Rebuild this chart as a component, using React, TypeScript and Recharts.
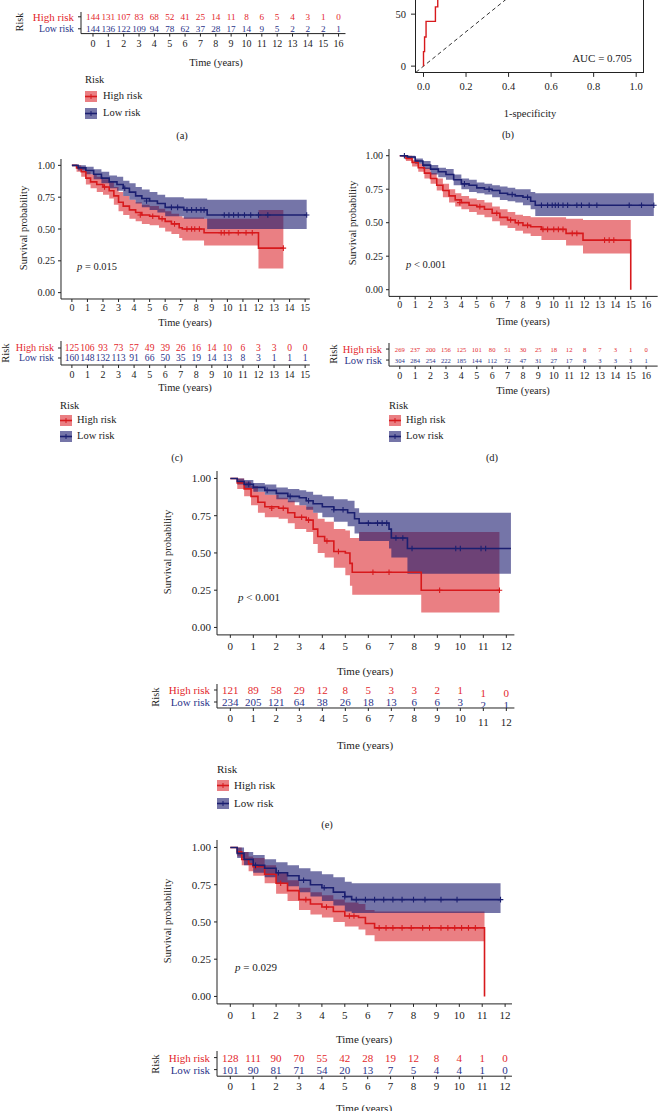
import React from "react";
import { ComposedChart, XAxis, YAxis, Area, Line, Scatter } from "recharts";

/* ── colours / fonts ── */
const RED = "#d7191c";
const RED_TXT = "#e3262b";
const RED_FILL = "#dc2a30";
const BLUE = "#1b1f70";
const BLUE_TXT = "#2a3389";
const BLUE_FILL = "#19196e";
const INK = "#222";
const FONT = '"Liberation Serif", "DejaVu Serif", serif';

/* ── (a) risk table (top, plot itself is off the page) ── */
const aYears = [0, 1, 2, 3, 4, 5, 6, 7, 8, 9, 10, 11, 12, 13, 14, 15, 16];
const aHighN = [144, 131, 107, 83, 68, 52, 41, 25, 14, 11, 8, 6, 5, 4, 3, 1, 0];
const aLowN = [144, 136, 122, 109, 94, 78, 62, 37, 28, 17, 14, 9, 5, 2, 2, 2, 1];

/* ── (b) ROC ── */
const rocFpr = [0, 0, 0.005, 0.005, 0.012, 0.012, 0.056, 0.056, 0.067, 0.067, 0.09, 0.09];
const rocTpr = [0, 14, 14, 28, 28, 43, 43, 57, 57, 71, 71, 100];
const diagX = [-0.035, 0.63];
const diagY = [-5.8, 104.3];
const rocTicks = [0, 0.2, 0.4, 0.6, 0.8, 1];

/* ── (c) ── [time, surv, lower, upper] */
const cHigh = [
  [0, 1, 1, 1], [0.3, 0.98, 0.95, 1], [0.6, 0.95, 0.91, 0.99], [0.9, 0.9, 0.85, 0.95],
  [1.2, 0.87, 0.82, 0.93], [1.6, 0.85, 0.79, 0.91], [2.0, 0.83, 0.77, 0.89], [2.4, 0.8, 0.74, 0.87],
  [2.7, 0.76, 0.69, 0.83], [3.0, 0.71, 0.64, 0.79], [3.3, 0.68, 0.61, 0.76], [3.7, 0.65, 0.58, 0.73],
  [4.1, 0.63, 0.56, 0.71], [4.5, 0.61, 0.54, 0.69], [5.0, 0.6, 0.53, 0.68], [5.6, 0.58, 0.51, 0.66],
  [6.0, 0.56, 0.48, 0.64], [6.4, 0.54, 0.46, 0.62], [6.9, 0.51, 0.43, 0.6], [7.1, 0.5, 0.41, 0.59],
  [8.5, 0.47, 0.37, 0.58], [12.0, 0.35, 0.19, 0.65], [13.6, 0.35, 0.19, 0.65],
];
const cLow = [
  [0, 1, 1, 1], [0.4, 0.98, 0.96, 1], [0.9, 0.96, 0.93, 0.99], [1.4, 0.93, 0.89, 0.97],
  [1.9, 0.9, 0.86, 0.95], [2.4, 0.87, 0.82, 0.92], [2.9, 0.85, 0.8, 0.91], [3.3, 0.82, 0.76, 0.88],
  [3.7, 0.79, 0.73, 0.86], [4.1, 0.76, 0.7, 0.83], [4.5, 0.74, 0.67, 0.81], [5.0, 0.72, 0.65, 0.79],
  [5.5, 0.7, 0.63, 0.77], [6.0, 0.67, 0.6, 0.75], [7.2, 0.65, 0.58, 0.74], [8.7, 0.61, 0.5, 0.73],
  [15.1, 0.61, 0.5, 0.73],
];
const cHighCens = [
  [2.1, 0.83], [4.4, 0.61], [5.2, 0.6], [5.8, 0.58], [6.6, 0.54], [7.4, 0.5], [7.7, 0.5], [7.9, 0.5],
  [8.2, 0.5], [9.6, 0.47], [9.8, 0.47], [10.1, 0.47], [10.7, 0.47], [11.2, 0.47], [11.6, 0.47], [13.6, 0.35],
];
const cLowCens = [
  [3.4, 0.82], [4.8, 0.72], [6.4, 0.67], [6.8, 0.67], [7.4, 0.65], [7.7, 0.65], [8.0, 0.65], [8.3, 0.65],
  [8.5, 0.65], [9.8, 0.61], [10.1, 0.61], [10.4, 0.61], [10.7, 0.61], [11.1, 0.61], [11.5, 0.61],
  [12.0, 0.61], [12.6, 0.61], [15.1, 0.61],
];
const cYears = [0, 1, 2, 3, 4, 5, 6, 7, 8, 9, 10, 11, 12, 13, 14, 15];
const cHighN = [125, 106, 93, 73, 57, 49, 39, 26, 16, 14, 10, 6, 3, 3, 0, 0];
const cLowN = [160, 148, 132, 113, 91, 66, 50, 35, 19, 14, 13, 8, 3, 1, 1, 1];

/* ── (d) ── */
const dHigh = [
  [0, 1, 1, 1], [0.4, 0.98, 0.96, 1], [0.8, 0.95, 0.92, 0.97], [1.2, 0.91, 0.88, 0.94],
  [1.6, 0.87, 0.83, 0.91], [2.0, 0.83, 0.79, 0.87], [2.4, 0.78, 0.74, 0.83], [2.8, 0.74, 0.69, 0.79],
  [3.2, 0.7, 0.65, 0.75], [3.6, 0.67, 0.62, 0.72], [4.0, 0.65, 0.6, 0.7], [4.5, 0.63, 0.58, 0.68],
  [5.0, 0.62, 0.56, 0.67], [5.5, 0.6, 0.54, 0.65], [6.0, 0.57, 0.51, 0.62], [6.5, 0.54, 0.48, 0.6],
  [7.0, 0.52, 0.46, 0.58], [7.5, 0.5, 0.44, 0.56], [8.0, 0.48, 0.42, 0.55], [8.5, 0.47, 0.4, 0.54],
  [9.2, 0.45, 0.37, 0.54], [10.8, 0.42, 0.33, 0.53], [11.9, 0.37, 0.27, 0.52], [15.0, 0, 0, 0],
];
const dLow = [
  [0, 1, 1, 1], [0.5, 0.99, 0.98, 1], [1.0, 0.96, 0.94, 0.98], [1.5, 0.93, 0.9, 0.96],
  [2.0, 0.9, 0.86, 0.93], [2.5, 0.88, 0.84, 0.91], [3.0, 0.86, 0.82, 0.9], [3.5, 0.82, 0.78, 0.86],
  [4.0, 0.79, 0.75, 0.83], [4.5, 0.78, 0.73, 0.82], [5.0, 0.76, 0.72, 0.8], [5.5, 0.75, 0.71, 0.79],
  [6.0, 0.74, 0.69, 0.78], [6.5, 0.72, 0.67, 0.77], [7.0, 0.71, 0.66, 0.76], [7.5, 0.7, 0.65, 0.75],
  [8.0, 0.69, 0.63, 0.75], [8.5, 0.66, 0.6, 0.73], [8.8, 0.63, 0.55, 0.72], [16.5, 0.63, 0.55, 0.72],
];
const dHighCens = [
  [3.9, 0.65], [5.2, 0.62], [6.3, 0.57], [7.2, 0.52], [7.7, 0.5], [8.3, 0.48], [9.3, 0.45], [9.6, 0.45],
  [10.0, 0.45], [10.3, 0.45], [10.6, 0.45], [11.2, 0.42], [11.5, 0.42], [13.3, 0.37], [13.6, 0.37], [13.9, 0.37],
];
const dLowCens = [
  [0.3, 1], [4.2, 0.79], [5.8, 0.75], [7.3, 0.71], [8.3, 0.69], [9.2, 0.63], [9.6, 0.63], [9.9, 0.63],
  [10.1, 0.63], [10.3, 0.63], [10.6, 0.63], [10.9, 0.63], [11.5, 0.63], [11.8, 0.63], [12.3, 0.63],
  [12.8, 0.63], [14.9, 0.63], [15.7, 0.63], [16.5, 0.63],
];
const dYears = [0, 1, 2, 3, 4, 5, 6, 7, 8, 9, 10, 11, 12, 13, 14, 15, 16];
const dHighN = [269, 237, 200, 156, 125, 101, 80, 51, 30, 25, 18, 12, 8, 7, 3, 1, 0];
const dLowN = [304, 284, 254, 222, 185, 144, 112, 72, 47, 31, 27, 17, 8, 3, 3, 3, 1];

/* ── (e) ── */
const eHigh = [
  [0, 1, 1, 1], [0.3, 0.97, 0.93, 1], [0.6, 0.93, 0.88, 0.98], [0.9, 0.88, 0.82, 0.95],
  [1.2, 0.84, 0.77, 0.91], [1.5, 0.81, 0.74, 0.89], [2.1, 0.8, 0.73, 0.87], [2.5, 0.77, 0.7, 0.85],
  [2.8, 0.74, 0.66, 0.82], [3.3, 0.72, 0.64, 0.81], [3.6, 0.66, 0.56, 0.77], [3.8, 0.61, 0.5, 0.73],
  [4.1, 0.58, 0.47, 0.71], [4.5, 0.51, 0.4, 0.66], [5.0, 0.5, 0.35, 0.65], [5.2, 0.43, 0.28, 0.6],
  [5.3, 0.37, 0.22, 0.6], [5.6, 0.37, 0.22, 0.64], [8.3, 0.25, 0.1, 0.64], [11.7, 0.25, 0.1, 0.64],
];
const eLow = [
  [0, 1, 1, 1], [0.3, 0.98, 0.96, 1], [0.6, 0.96, 0.93, 0.99], [1.0, 0.94, 0.91, 0.97],
  [1.5, 0.92, 0.89, 0.96], [2.0, 0.9, 0.86, 0.94], [2.5, 0.88, 0.84, 0.93], [3.0, 0.87, 0.82, 0.92],
  [3.3, 0.85, 0.79, 0.91], [3.6, 0.83, 0.77, 0.89], [4.0, 0.81, 0.74, 0.88], [4.5, 0.79, 0.71, 0.86],
  [5.1, 0.77, 0.68, 0.85], [5.4, 0.73, 0.63, 0.8], [5.6, 0.7, 0.58, 0.77], [6.9, 0.66, 0.53, 0.77],
  [7.0, 0.6, 0.47, 0.77], [7.7, 0.53, 0.36, 0.77], [12.2, 0.53, 0.36, 0.77],
];
const eHighCens = [
  [1.8, 0.8], [2.3, 0.8], [3.1, 0.74], [3.4, 0.72], [4.2, 0.58], [4.7, 0.51], [6.2, 0.37], [6.9, 0.37],
  [9.1, 0.25], [11.7, 0.25],
];
const eLowCens = [
  [0.8, 0.96], [1.6, 0.92], [2.6, 0.88], [3.4, 0.85], [4.5, 0.79], [4.9, 0.79], [6.0, 0.7], [6.4, 0.7],
  [6.6, 0.7], [6.8, 0.7], [7.2, 0.6], [7.5, 0.6], [7.9, 0.53], [9.8, 0.53], [10.0, 0.53], [10.9, 0.53], [11.1, 0.53],
];
const eYears = [0, 1, 2, 3, 4, 5, 6, 7, 8, 9, 10, 11, 12];
const eHighN = [121, 89, 58, 29, 12, 8, 5, 3, 3, 2, 1, 1, 0];
const eLowN = [234, 205, 121, 64, 38, 26, 18, 13, 6, 6, 3, 2, 1];

/* ── (f) ── */
const fHigh = [
  [0, 1, 1, 1], [0.3, 0.97, 0.94, 1], [0.5, 0.92, 0.88, 0.97], [0.8, 0.89, 0.84, 0.94],
  [1.0, 0.87, 0.81, 0.93], [1.5, 0.82, 0.76, 0.88], [2.0, 0.76, 0.69, 0.83], [2.5, 0.71, 0.64, 0.78],
  [3.0, 0.65, 0.58, 0.73], [3.5, 0.62, 0.55, 0.7], [4.0, 0.6, 0.53, 0.68], [4.5, 0.57, 0.5, 0.65],
  [5.0, 0.54, 0.47, 0.63], [5.6, 0.53, 0.45, 0.62], [5.9, 0.49, 0.41, 0.58], [6.3, 0.46, 0.37, 0.57],
  [11.1, 0, 0, 0],
];
const fLow = [
  [0, 1, 1, 1], [0.3, 0.96, 0.93, 1], [0.6, 0.92, 0.88, 0.97], [1.0, 0.88, 0.83, 0.95],
  [1.5, 0.86, 0.8, 0.92], [2.0, 0.83, 0.76, 0.9], [2.5, 0.81, 0.74, 0.88], [3.0, 0.78, 0.7, 0.86],
  [3.5, 0.75, 0.67, 0.84], [4.0, 0.73, 0.64, 0.82], [4.5, 0.7, 0.61, 0.8], [5.0, 0.67, 0.57, 0.77],
  [5.3, 0.65, 0.56, 0.76], [11.8, 0.65, 0.56, 0.76],
];
const fHighCens = [
  [1.1, 0.87], [2.2, 0.76], [3.3, 0.65], [4.2, 0.6], [5.2, 0.54], [5.4, 0.54], [6.5, 0.46], [6.8, 0.46],
  [7.1, 0.46], [7.5, 0.46], [7.9, 0.46], [8.4, 0.46], [8.7, 0.46], [9.2, 0.46], [9.5, 0.46], [9.8, 0.46],
  [10.1, 0.46], [10.4, 0.46], [10.7, 0.46],
];
const fLowCens = [
  [1.1, 0.88], [2.1, 0.83], [3.2, 0.78], [4.1, 0.73], [5.0, 0.67], [5.5, 0.65], [5.9, 0.65], [6.3, 0.65],
  [6.7, 0.65], [7.1, 0.65], [7.5, 0.65], [8.0, 0.65], [8.5, 0.65], [9.2, 0.65], [9.9, 0.65], [11.8, 0.65],
];
const fYears = [0, 1, 2, 3, 4, 5, 6, 7, 8, 9, 10, 11, 12];
const fHighN = [128, 111, 90, 70, 55, 42, 28, 19, 12, 8, 4, 1, 0];
const fLowN = [101, 90, 81, 71, 54, 20, 13, 7, 5, 4, 4, 1, 0];

const survTicks = [0, 0.25, 0.5, 0.75, 1];

/* ── helpers ── */
const toRows = (a: number[][]) => a.map(([t, s, lo, hi]) => ({ t, s, band: [lo, hi] }));
const toPts = (a: number[][]) => a.map(([t, s]) => ({ t, s }));

const cross = (color: string) => (p: any) => (
  <path d={`M${p.cx - 2.8},${p.cy}h5.6M${p.cx},${p.cy - 2.8}v5.6`} stroke={color} strokeWidth={1.1} fill="none" />
);

function Txt({ x, y, children, fs = 10, color = INK, anchor = "middle", rot = 0 }: any) {
  const tx = anchor === "middle" ? "-50%" : anchor === "end" ? "-100%" : "0";
  return (
    <div
      style={{
        position: "absolute",
        left: x,
        top: y,
        fontSize: fs,
        lineHeight: 1,
        color,
        whiteSpace: "nowrap",
        fontFamily: FONT,
        transform: `translate(${tx}, -50%)${rot ? ` rotate(${rot}deg)` : ""}`,
      }}
    >
      {children}
    </div>
  );
}

function Swatch({ x, y, fill, line }: any) {
  return (
    <svg style={{ position: "absolute", left: x, top: y - 5.5 }} width={12} height={11}>
      <rect x={0} y={0} width={12} height={11} fill={fill} fillOpacity={0.6} />
      <line x1={0} x2={12} y1={5.5} y2={5.5} stroke={line} strokeWidth={1.6} />
      <line x1={6} x2={6} y1={3} y2={8} stroke={line} strokeWidth={1} />
    </svg>
  );
}

function RiskLegend({ x, y, tx, d1, d2, fs }: any) {
  return (
    <>
      <Txt x={x} y={y} anchor="start" fs={fs}>Risk</Txt>
      <Swatch x={x} y={y + d1} fill={RED_FILL} line={RED} />
      <Txt x={tx} y={y + d1} anchor="start" fs={fs}>High risk</Txt>
      <Swatch x={x} y={y + d2} fill={BLUE_FILL} line={BLUE} />
      <Txt x={tx} y={y + d2} anchor="start" fs={fs}>Low risk</Txt>
    </>
  );
}

function KMPlot({ rect, xd, xt, fs, gap, high, low, hc, lc }: any) {
  const L = 45, T = 6, R = 8, B = 26;
  const tickStyle = { fill: INK, fontSize: fs, fontFamily: FONT };
  return (
    <div style={{ position: "absolute", left: rect.x - L, top: rect.y - T }}>
      <ComposedChart
        width={L + rect.w + R}
        height={T + rect.h + B}
        margin={{ top: T, right: R, bottom: 0, left: 0 }}
      >
        <XAxis
          type="number"
          dataKey="t"
          domain={xd}
          ticks={xt}
          interval={0}
          allowDataOverflow
          height={B}
          tickSize={3}
          tickMargin={gap}
          stroke={INK}
          tick={tickStyle}
        />
        <YAxis
          type="number"
          domain={[-0.05, 1.05]}
          ticks={survTicks}
          interval={0}
          allowDataOverflow
          width={L}
          tickSize={3}
          tickMargin={3}
          stroke={INK}
          tick={tickStyle}
          tickFormatter={(v: number) => v.toFixed(2)}
        />
        <Area data={toRows(high)} dataKey="band" type="stepAfter" stroke="none" fill={RED_FILL} fillOpacity={0.6} isAnimationActive={false} />
        <Area data={toRows(low)} dataKey="band" type="stepAfter" stroke="none" fill={BLUE_FILL} fillOpacity={0.6} isAnimationActive={false} />
        <Line data={toRows(high)} dataKey="s" type="stepAfter" stroke={RED} strokeWidth={1.6} dot={false} isAnimationActive={false} />
        <Line data={toRows(low)} dataKey="s" type="stepAfter" stroke={BLUE} strokeWidth={1.6} dot={false} isAnimationActive={false} />
        <Scatter data={toPts(hc)} dataKey="s" shape={cross(RED)} isAnimationActive={false} />
        <Scatter data={toPts(lc)} dataKey="s" shape={cross(BLUE)} isAnimationActive={false} />
      </ComposedChart>
    </div>
  );
}

function RiskTable({ rect, xd, years, hi, lo, yd, fs, lfsHi, lfsLo, tfs, gap, shift = [] }: any) {
  const L = 75, T = 2, R = 8, B = 22;
  const hiRows = years.map((t: number, i: number) => ({ t, r: 2, n: hi[i] }));
  const loRows = years.map((t: number, i: number) => ({ t, r: 1, n: lo[i] }));
  const num = (color: string) => (p: any) => (
    <text
      x={p.cx}
      y={p.cy + (shift.includes(p.payload.t) ? 3 : 0)}
      textAnchor="middle"
      dominantBaseline="central"
      fill={color}
      fontSize={fs}
      fontFamily={FONT}
    >
      {p.payload.n}
    </text>
  );
  const rowTick = (p: any) => {
    const isHi = p.payload.value === 2;
    return (
      <text x={p.x} y={p.y} textAnchor="end" dominantBaseline="central" fill={isHi ? RED_TXT : BLUE_TXT} fontSize={isHi ? lfsHi : lfsLo} fontFamily={FONT}>
        {isHi ? "High risk" : "Low risk"}
      </text>
    );
  };
  const xTick = (p: any) => (
    <text x={p.x} y={p.y + (shift.includes(p.payload.value) ? 4 : 0)} dy="0.71em" textAnchor="middle" fill={INK} fontSize={tfs} fontFamily={FONT}>
      {p.payload.value}
    </text>
  );
  return (
    <div style={{ position: "absolute", left: rect.x - L, top: rect.y - T }}>
      <ComposedChart width={L + rect.w + R} height={T + rect.h + B} margin={{ top: T, right: R, bottom: 0, left: 0 }}>
        <XAxis type="number" dataKey="t" domain={xd} ticks={years} interval={0} allowDataOverflow height={B} tickSize={3} tickMargin={gap} stroke={INK} tick={xTick} />
        <YAxis type="number" domain={yd} ticks={[1, 2]} interval={0} allowDataOverflow width={L} tickSize={3} tickMargin={4} stroke={INK} tick={rowTick} />
        <Scatter data={hiRows} dataKey="r" shape={num(RED_TXT)} isAnimationActive={false} />
        <Scatter data={loRows} dataKey="r" shape={num(BLUE_TXT)} isAnimationActive={false} />
      </ComposedChart>
    </div>
  );
}

function RocPlot() {
  const rect = { x: 414.8, y: -41.9, w: 229.7, h: 114.9 };
  const L = 40, R = 10, B = 30;
  const roc = rocFpr.map((x, i) => ({ x, y: rocTpr[i] }));
  const diag = diagX.map((x, i) => ({ x, y: diagY[i] }));
  const tickStyle = { fill: INK, fontSize: 10.5, fontFamily: FONT };
  return (
    <>
      <div style={{ position: "absolute", left: rect.x - L, top: rect.y }}>
        <ComposedChart width={L + rect.w + R} height={rect.h + B} margin={{ top: 0, right: R, bottom: 0, left: 0 }}>
          <XAxis type="number" dataKey="x" domain={[-0.04, 1.04]} ticks={rocTicks} interval={0} allowDataOverflow axisLine={false} height={B} tickSize={4} tickMargin={6} stroke={INK} tick={tickStyle} tickFormatter={(v: number) => v.toFixed(1)} />
          <YAxis type="number" domain={[-6.5, 104]} ticks={[0, 50]} interval={0} allowDataOverflow axisLine={false} width={L} tickSize={4} tickMargin={5} stroke={INK} tick={tickStyle} />
          <Line data={diag} dataKey="y" type="linear" stroke="#333" strokeWidth={1} strokeDasharray="4 3" dot={false} isAnimationActive={false} />
          <Line data={roc} dataKey="y" type="linear" stroke={RED} strokeWidth={1.4} dot={false} isAnimationActive={false} />
        </ComposedChart>
      </div>
      <div
        style={{
          position: "absolute",
          left: rect.x,
          top: rect.y,
          width: rect.w,
          height: rect.h,
          border: `1px solid ${INK}`,
          boxSizing: "border-box",
          pointerEvents: "none",
        }}
      />
    </>
  );
}

function PVal({ x, y, sign, val, fs }: any) {
  return (
    <Txt x={x} y={y} anchor="start" fs={fs}>
      <i>p</i> {sign} {val}
    </Txt>
  );
}

export default function App() {
  const cRect = { x: 60.8, y: 158.6, w: 248.8, h: 140 };
  const dRect = { x: 388.9, y: 149.3, w: 268.7, h: 147.4 };
  const eRect = { x: 216.7, y: 470.5, w: 297.4, h: 163.9 };
  const fRect = { x: 216.7, y: 839.5, w: 295, h: 163.9 };
  return (
    <div style={{ position: "absolute", left: 0, top: 0, width: 658, height: 1111, overflow: "hidden", background: "#fff", fontFamily: FONT }}>
      {/* (a) */}
      <RiskTable rect={{ x: 81, y: 12.2, w: 264.5, h: 21.6 }} xd={[-0.78, 16.45]} years={aYears} hi={aHighN} lo={aLowN} yd={[0.6, 2.4]} fs={9.2} lfsHi={11} lfsLo={9.8} tfs={10} gap={3} />
      <Txt x={20} y={22} rot={-90} fs={10}>Risk</Txt>
      <Txt x={216} y={63} fs={10.5}>Time (years)</Txt>
      <RiskLegend x={85} y={80} tx={103} d1={16} d2={33} fs={10.5} />
      <Txt x={182} y={136} fs={10.5}>(a)</Txt>

      {/* (b) */}
      <RocPlot />
      <Txt x={602} y={58} fs={11}>AUC = 0.705</Txt>
      <Txt x={530} y={114} fs={10.5}>1-specificity</Txt>
      <Txt x={508} y={135} fs={10.5}>(b)</Txt>

      {/* (c) */}
      <KMPlot rect={cRect} xd={[-0.7, 15.3]} xt={cYears} fs={10} gap={2} high={cHigh} low={cLow} hc={cHighCens} lc={cLowCens} />
      <Txt x={24} y={228} rot={-90} fs={10.5}>Survival probability</Txt>
      <PVal x={77} y={267} sign="=" val="0.015" fs={10.5} />
      <Txt x={185} y={323} fs={10.5}>Time (years)</Txt>
      <RiskTable rect={{ x: 60.8, y: 341, w: 248.8, h: 24 }} xd={[-0.7, 15.3]} years={cYears} hi={cHighN} lo={cLowN} yd={[0.3, 2.7]} fs={9.6} lfsHi={10.2} lfsLo={9.8} tfs={10} gap={3} />
      <Txt x={6} y={353} rot={-90} fs={10.5}>Risk</Txt>
      <Txt x={185} y={388} fs={10.5}>Time (years)</Txt>
      <RiskLegend x={60} y={406} tx={77} d1={14} d2={30} fs={10.5} />
      <Txt x={177} y={458} fs={10.5}>(c)</Txt>

      {/* (d) */}
      <KMPlot rect={dRect} xd={[-0.7, 16.75]} xt={dYears} fs={10} gap={2} high={dHigh} low={dLow} hc={dHighCens} lc={dLowCens} />
      <Txt x={353} y={223} rot={-90} fs={10.5}>Survival probability</Txt>
      <PVal x={406} y={265} sign="<" val="0.001" fs={10.5} />
      <Txt x={523} y={322} fs={10.5}>Time (years)</Txt>
      <RiskTable rect={{ x: 388.9, y: 343, w: 268.7, h: 23.1 }} xd={[-0.7, 16.75]} years={dYears} hi={dHighN} lo={dLowN} yd={[0.45, 2.55]} fs={6.6} lfsHi={10.5} lfsLo={10.5} tfs={10} gap={3} />
      <Txt x={334} y={354} rot={-90} fs={10.5}>Risk</Txt>
      <Txt x={523} y={391} fs={10.5}>Time (years)</Txt>
      <RiskLegend x={389} y={406} tx={406} d1={14} d2={30} fs={10.5} />
      <Txt x={492} y={458} fs={10.5}>(d)</Txt>

      {/* (e) */}
      <KMPlot rect={eRect} xd={[-0.58, 12.35]} xt={eYears} fs={11} gap={4} high={eHigh} low={eLow} hc={eHighCens} lc={eLowCens} />
      <Txt x={168} y={552} rot={-90} fs={10.5}>Survival probability</Txt>
      <PVal x={238} y={597} sign="<" val="0.001" fs={11} />
      <Txt x={365} y={671} fs={11}>Time (years)</Txt>
      <RiskTable rect={{ x: 216.7, y: 684, w: 297.4, h: 24 }} xd={[-0.58, 12.35]} years={eYears} hi={eHighN} lo={eLowN} yd={[0.5, 2.5]} fs={11} lfsHi={11} lfsLo={11} tfs={11} gap={3} shift={[11, 12]} />
      <Txt x={156} y={697} rot={-90} fs={10.5}>Risk</Txt>
      <Txt x={365} y={745} fs={11}>Time (years)</Txt>
      <RiskLegend x={217} y={769} tx={234} d1={16} d2={34} fs={11} />
      <Txt x={327} y={825} fs={10.5}>(e)</Txt>

      {/* (f) */}
      <KMPlot rect={fRect} xd={[-0.58, 12.3]} xt={fYears} fs={11} gap={4} high={fHigh} low={fLow} hc={fHighCens} lc={fLowCens} />
      <Txt x={168} y={921} rot={-90} fs={10.5}>Survival probability</Txt>
      <PVal x={235} y={967} sign="=" val="0.029" fs={11} />
      <Txt x={364} y={1039} fs={11}>Time (years)</Txt>
      <RiskTable rect={{ x: 216.7, y: 1051.4, w: 295, h: 25.2 }} xd={[-0.58, 12.3]} years={fYears} hi={fHighN} lo={fLowN} yd={[0.45, 2.55]} fs={11} lfsHi={11} lfsLo={11} tfs={11} gap={3} />
      <Txt x={156} y={1064} rot={-90} fs={10.5}>Risk</Txt>
      <Txt x={364} y={1108} fs={11}>Time (years)</Txt>
    </div>
  );
}
